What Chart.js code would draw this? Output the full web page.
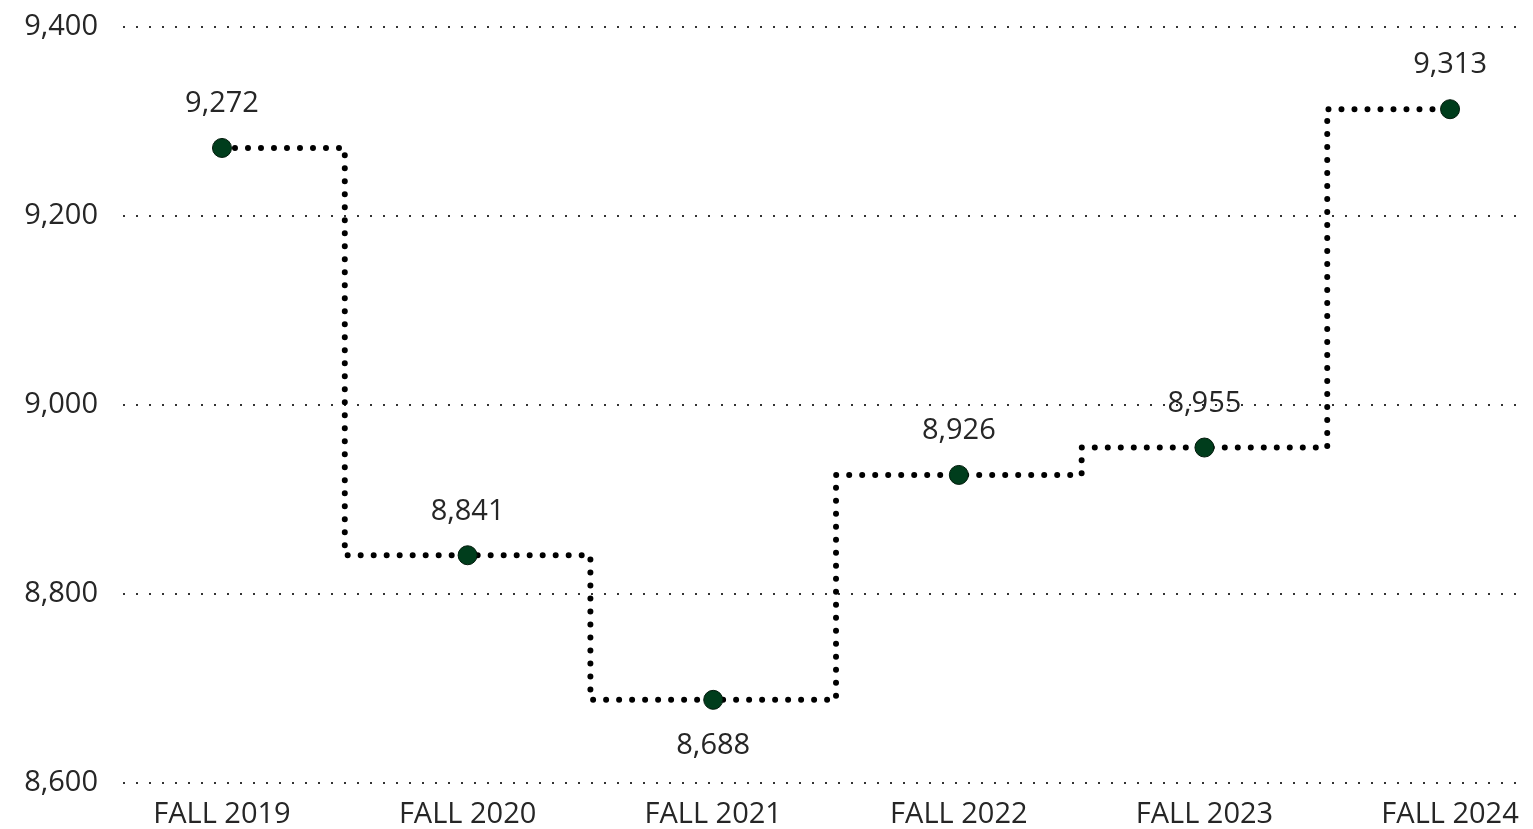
<!DOCTYPE html>
<html>
<head>
<meta charset="utf-8">
<script src="https://cdn.jsdelivr.net/npm/chart.js@4/dist/chart.umd.min.js"></script>
<style>
  html, body { margin: 0; padding: 0; background: #fff; overflow: hidden; }
  #wrap { width: 1533px; height: 829px; }
</style>
</head>
<body>
<div id="wrap"><canvas id="linegraph"></canvas></div>
<script>
var terms = ['FALL 2019', 'FALL 2020', 'FALL 2021', 'FALL 2022', 'FALL 2023', 'FALL 2024'];
var enrollment = [9272, 8841, 8688, 8926, 8955, 9313];
var labelBelow = [false, false, true, false, false, false];
var yTicks = [8600, 8800, 9000, 9200, 9400];

var fontFamily = '"Open Sans", "Noto Sans", sans-serif';
var fontSize = 29;
var fmt = function(v){ return v.toLocaleString('en-US'); };

// draws the value above (or below) each point
var valueLabels = {
    id : 'valueLabels',
    afterDatasetsDraw : function(chart){
        var ctx = chart.ctx;
        var meta = chart.getDatasetMeta(0);
        ctx.save();
        ctx.font = fontSize + 'px ' + fontFamily;
        ctx.fillStyle = '#262626';
        ctx.textAlign = 'center';
        ctx.textBaseline = 'middle';
        meta.data.forEach(function(pt, i){
            var dy = labelBelow[i] ? 46 : -44;
            ctx.fillText(fmt(enrollment[i]), pt.x, pt.y + dy);
        });
        ctx.restore();
    }
};

var points = enrollment.map(function(v, i){ return {x : i, y : v}; });

var canvas = document.getElementById('linegraph');
var LineGraph = new Chart(canvas, {
    type : 'line',
    data : {
        datasets : [{
            data : points,
            stepped : 'middle',
            fill : false,
            borderColor : '#000000',
            borderWidth : 6,
            borderDash : [0, 13],
            borderCapStyle : 'round',
            pointRadius : 9.5,
            pointBackgroundColor : '#003d1c',
            pointBorderColor : '#001a0b',
            pointBorderWidth : 1
        }]
    },
    options : {
        responsive : true,
        maintainAspectRatio : false,
        animation : false,
        layout : { padding : { top : 27, right : 3, left : 0, bottom : 0 } },
        plugins : {
            legend : { display : false },
            tooltip : { enabled : false }
        },
        scales : {
            x : {
                type : 'linear',
                bounds : 'data',
                min : -0.403,
                max : 5.295,
                grid : { display : false, drawTicks : false },
                border : { display : false },
                afterBuildTicks : function(axis){
                    axis.ticks = terms.map(function(t, i){ return {value : i}; });
                },
                afterFit : function(axis){
                    axis.height = 46;
                    axis.paddingLeft = 0;
                    axis.paddingRight = 0;
                },
                ticks : {
                    autoSkip : false,
                    maxRotation : 0,
                    padding : 14,
                    color : '#262626',
                    font : { family : fontFamily, size : fontSize },
                    callback : function(v){ return terms[v]; }
                }
            },
            y : {
                min : 8600,
                max : 9400,
                afterBuildTicks : function(axis){
                    axis.ticks = yTicks.map(function(v){ return {value : v}; });
                },
                afterFit : function(axis){
                    axis.width = 123;
                    axis.paddingTop = 0;
                    axis.paddingBottom = 0;
                },
                grid : {
                    color : '#333333',
                    lineWidth : 2,
                    drawTicks : false
                },
                border : { display : false, dash : [2, 11] },
                ticks : {
                    padding : 25,
                    color : '#262626',
                    font : { family : fontFamily, size : fontSize },
                    callback : function(v){ return fmt(v); }
                }
            }
        }
    },
    plugins : [valueLabels]
});
</script>
</body>
</html>
